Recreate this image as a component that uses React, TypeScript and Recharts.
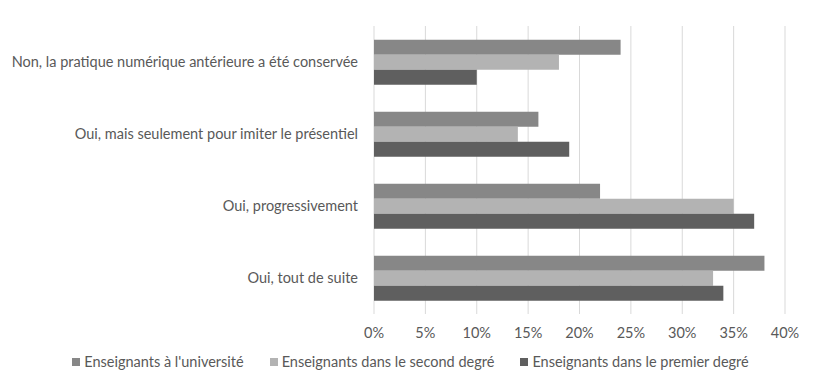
import { BarChart, Bar, XAxis, YAxis, CartesianGrid, Legend } from "recharts";

// categories, top to bottom
const categories = [
    "Non, la pratique numérique antérieure a été conservée",
    "Oui, mais seulement pour imiter le présentiel",
    "Oui, progressivement",
    "Oui, tout de suite",
];

// values in %
const universite = [24, 16, 22, 38];
const secondDegre = [18, 14, 35, 33];
const premierDegre = [10, 19, 37, 34];

const xTicks = [0, 5, 10, 15, 20, 25, 30, 35, 40];

const seriesNames = [
    "Enseignants à l'université",
    "Enseignants dans le second degré",
    "Enseignants dans le premier degré",
];
const colors = ["#878787", "#b3b3b3", "#5f5f5f"];

const data = categories.map((c, i) => ({
    name: c,
    universite: universite[i],
    second: secondDegre[i],
    premier: premierDegre[i],
}));

const font = "Lato, 'Open Sans', sans-serif";

function LegendContent() {
    return (
        <div
            style={{
                display: "flex",
                justifyContent: "center",
                gap: 26,
                fontFamily: font,
                fontSize: 14.5,
                color: "#595959",
                paddingLeft: 36,
                paddingTop: 5,
            }}
        >
            {seriesNames.map((n, i) => (
                <div key={n} style={{ display: "flex", alignItems: "center" }}>
                    <span
                        style={{
                            display: "inline-block",
                            width: 8,
                            height: 8,
                            background: colors[i],
                            marginRight: 4,
                        }}
                    />
                    {n}
                </div>
            ))}
        </div>
    );
}

export default function App() {
    return (
        <div style={{ position: "absolute", left: 0, top: 0, background: "#fff" }}>
            <BarChart
                width={818}
                height={377}
                data={data}
                layout="vertical"
                margin={{ top: 26, right: 33, left: 0, bottom: 0 }}
                barCategoryGap="19%"
                barGap={0}
            >
                <CartesianGrid horizontal={false} stroke="#d9d9d9" />
                <XAxis
                    type="number"
                    domain={[0, 40]}
                    ticks={xTicks}
                    tickFormatter={(v) => `${v}%`}
                    axisLine={false}
                    tickLine={false}
                    tickSize={0}
                    tickMargin={14}
                    height={34}
                    tick={{ fill: "#595959", fontSize: 14.5, fontFamily: font }}
                    interval={0}
                />
                <YAxis
                    type="category"
                    dataKey="name"
                    width={374}
                    axisLine={false}
                    tickLine={false}
                    tickSize={0}
                    tickMargin={16}
                    tick={{ fill: "#595959", fontSize: 14.5, fontFamily: font }}
                    interval={0}
                />
                <Legend content={<LegendContent />} verticalAlign="bottom" height={29} />
                <Bar dataKey="universite" name={seriesNames[0]} fill={colors[0]} isAnimationActive={false} />
                <Bar dataKey="second" name={seriesNames[1]} fill={colors[1]} isAnimationActive={false} />
                <Bar dataKey="premier" name={seriesNames[2]} fill={colors[2]} isAnimationActive={false} />
            </BarChart>
        </div>
    );
}
